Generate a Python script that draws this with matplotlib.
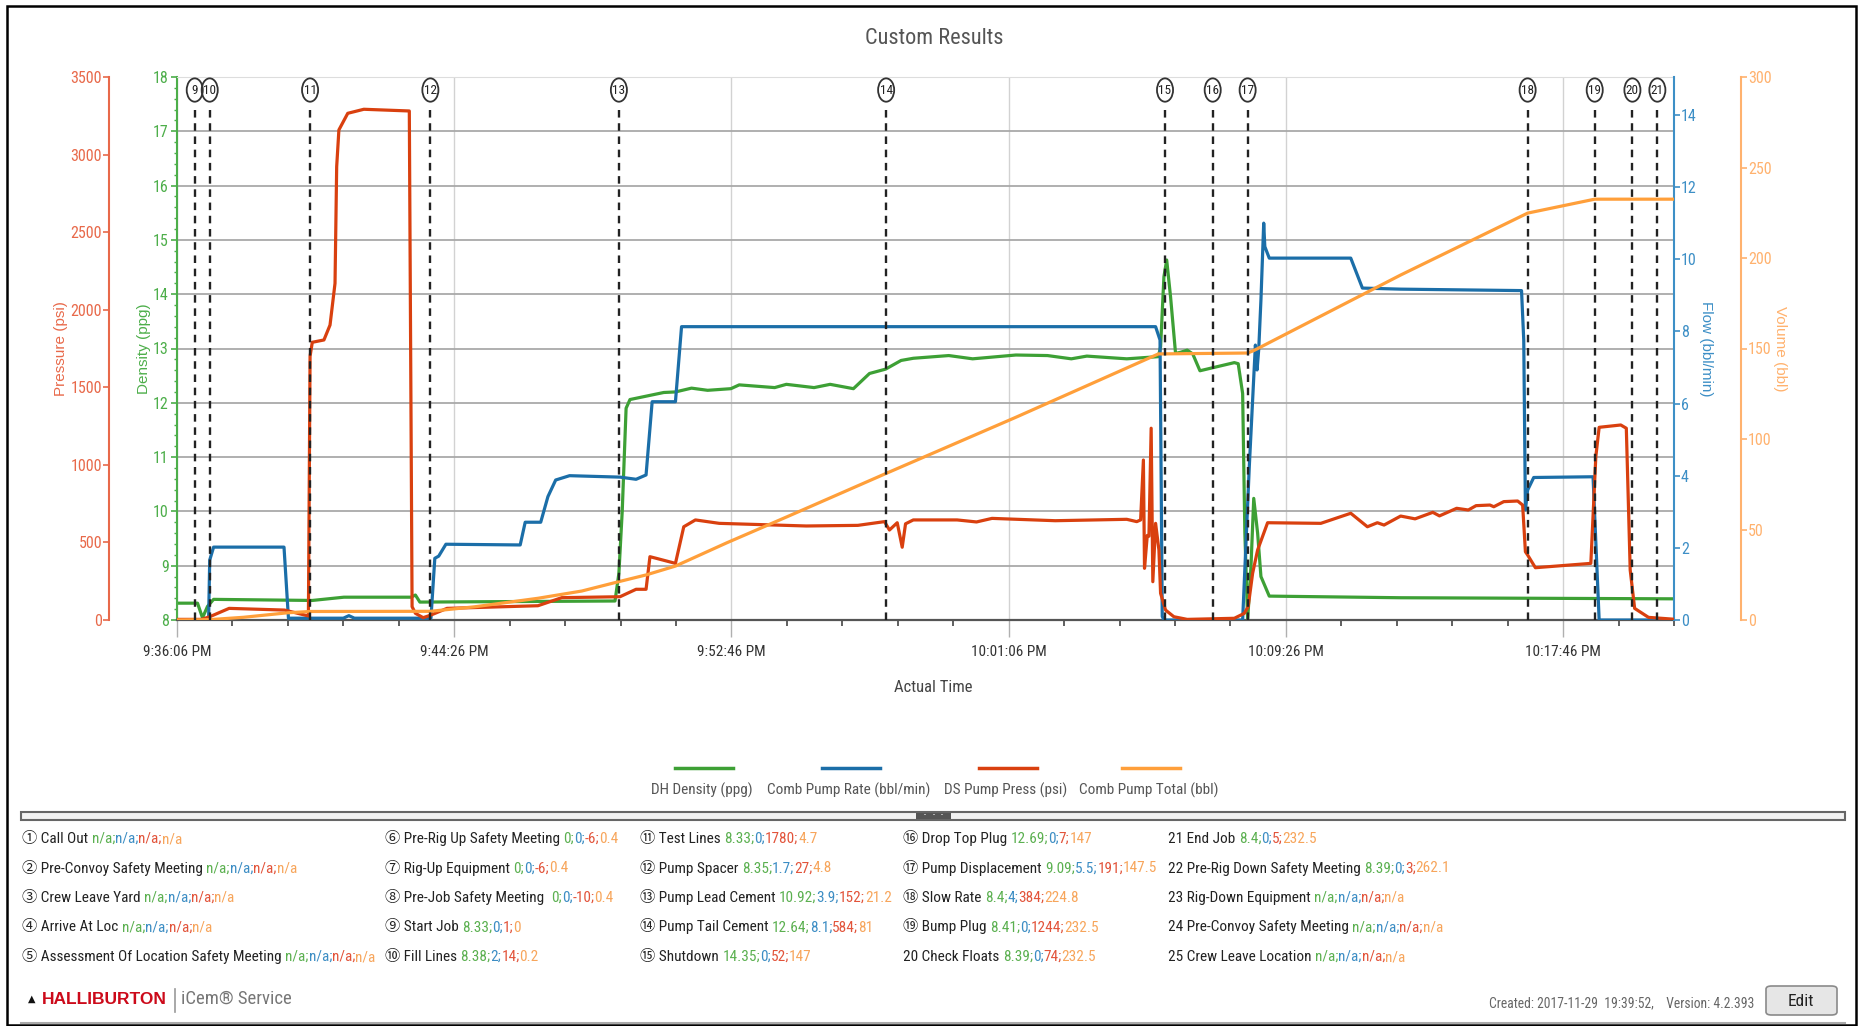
from datetime import datetime, timedelta

import matplotlib
matplotlib.use("Agg")
import matplotlib.pyplot as plt
from matplotlib import font_manager as fm, transforms
from matplotlib.patches import Ellipse, Rectangle, FancyBboxPatch
from matplotlib.lines import Line2D
from matplotlib.ticker import MultipleLocator, FuncFormatter

W, H = 1860, 1026

# --- data (time in seconds after 9:36:06 PM) ---
START = datetime(2017, 11, 29, 21, 36, 6)

density_t = [0, 37, 46, 55, 66, 244, 301, 422, 430, 438, 790, 797, 803, 810, 817,
             878, 899, 928, 957, 999, 1014, 1078, 1099, 1149, 1178, 1220, 1249, 1278,
             1306, 1328, 1392, 1435, 1513, 1570, 1613, 1641, 1713, 1770, 1774, 1780,
             1785, 1792, 1801, 1810, 1822, 1832, 1845, 1907, 1914, 1922, 1926, 1931,
             1937, 1942, 1949, 1955, 1970, 2207, 2700]
density_v = [8.31, 8.31, 8.04, 8.25, 8.38, 8.36, 8.42, 8.42, 8.46, 8.33, 8.35, 8.86,
             10.0, 11.9, 12.06, 12.19, 12.2, 12.27, 12.23, 12.26, 12.33, 12.28, 12.34,
             12.28, 12.34, 12.26, 12.54, 12.62, 12.78, 12.82, 12.87, 12.81, 12.88,
             12.87, 12.81, 12.86, 12.81, 12.85, 13.03, 14.32, 14.63, 13.95, 12.91,
             12.93, 12.97, 12.9, 12.59, 12.74, 12.72, 12.17, 9.6, 8.0, 8.98, 10.24,
             9.6, 8.8, 8.44, 8.41, 8.39]

rate_t = [0, 57, 59, 66, 193, 201, 300, 310, 320, 458, 465, 472, 485, 619, 628, 656,
          669, 683, 708, 799, 828, 846, 857, 899, 910, 1765, 1773, 1777, 1780, 1922,
          1934, 1943, 1945, 1948, 1951, 1955, 1960, 1962, 1970, 2117, 2138, 2207,
          2425, 2429, 2432, 2436, 2447, 2554, 2565, 2700]
rate_v = [0, 0, 1.66, 2.02, 2.02, 0.05, 0.05, 0.12, 0.05, 0.05, 1.71, 1.77, 2.1, 2.08,
          2.71, 2.71, 3.42, 3.88, 4.0, 3.96, 3.9, 4.02, 6.05, 6.05, 8.13, 8.13, 7.76,
          0.1, 0, 0, 4.25, 7.02, 7.62, 6.93, 7.5, 8.87, 11.0, 10.35, 10.03, 10.03, 9.2,
          9.17, 9.13, 7.76, 3.05, 3.6, 3.95, 3.97, 0, 0]

press_t = [0, 44, 59, 94, 194, 237, 240, 244, 265, 276, 285, 288, 292, 308, 337, 419,
           421, 424, 430, 444, 458, 487, 651, 694, 799, 828, 846, 853, 864, 899, 914,
           935, 978, 1135, 1228, 1276, 1285, 1299, 1308, 1314, 1328, 1407, 1442, 1470,
           1584, 1713, 1731, 1738, 1743, 1745, 1750, 1753, 1757, 1760, 1765, 1771,
           1774, 1783, 1798, 1822, 1907, 1925, 1932, 1940, 1949, 1967, 2063, 2117,
           2147, 2165, 2177, 2207, 2233, 2265, 2277, 2308, 2329, 2343, 2368, 2375,
           2393, 2418, 2427, 2432, 2436, 2450, 2550, 2559, 2565, 2604, 2614, 2621,
           2629, 2654, 2700]
press_v = [4, 4, 21, 75, 64, 26, 1700, 1790, 1805, 1901, 2170, 2922, 3159, 3266, 3292,
           3281, 2000, 86, 43, 15, 32, 75, 92, 144, 150, 198, 198, 408, 398, 365, 601,
           645, 623, 606, 610, 634, 580, 627, 469, 620, 645, 645, 632, 655, 640, 649,
           634, 645, 1031, 333, 545, 540, 1236, 247, 623, 451, 172, 64, 21, 4, 11, 43,
           86, 301, 451, 627, 623, 688, 601, 627, 612, 670, 652, 694, 671, 720, 709,
           737, 741, 730, 763, 767, 741, 440, 419, 337, 365, 1053, 1242, 1257, 1236,
           322, 75, 17, 5]

total_t = [0, 59, 120, 200, 240, 457, 537, 651, 730, 797, 846, 899, 992, 1100, 1279,
           1513, 1770, 1931, 1943, 2207, 2436, 2557, 2700]
total_v = [0, 0.2, 1.5, 4.0, 4.7, 4.8, 7.3, 12, 16, 21.2, 24.9, 29.8, 42.7, 57, 81,
           112, 147, 147.5, 149, 190.6, 224.8, 232.5, 232.5]

event_num = [9, 10, 11, 12, 13, 14, 15, 16, 17, 18, 19, 20, 21]
event_t = [32, 59, 240, 457, 797, 1279, 1782, 1868, 1931, 2436, 2557, 2625, 2670]

legend_labels = ["DH Density (ppg)", "Comb Pump Rate (bbl/min)",
                 "DS Pump Press (psi)", "Comb Pump Total (bbl)"]

event_names = [
    "① Call Out", "② Pre-Convoy Safety Meeting", "③ Crew Leave Yard", "④ Arrive At Loc",
    "⑤ Assessment Of Location Safety Meeting",
    "⑥ Pre-Rig Up Safety Meeting", "⑦ Rig-Up Equipment", "⑧ Pre-Job Safety Meeting ",
    "⑨ Start Job", "⑩ Fill Lines",
    "⑪ Test Lines", "⑫ Pump Spacer", "⑬ Pump Lead Cement", "⑭ Pump Tail Cement",
    "⑮ Shutdown",
    "⑯ Drop Top Plug", "⑰ Pump Displacement", "⑱ Slow Rate", "⑲ Bump Plug",
    "20 Check Floats",
    "21 End Job", "22 Pre-Rig Down Safety Meeting", "23 Rig-Down Equipment",
    "24 Pre-Convoy Safety Meeting", "25 Crew Leave Location",
]
NA = ("n/a", "n/a", "n/a", "n/a")
event_vals = [
    NA, NA, NA, NA, NA,
    ("0", "0", "-6", "0.4"), ("0", "0", "-6", "0.4"), ("0", "0", "-10", "0.4"),
    ("8.33", "0", "1", "0"), ("8.38", "2", "14", "0.2"),
    ("8.33", "0", "1780", "4.7"), ("8.35", "1.7", "27", "4.8"),
    ("10.92", "3.9", "152", "21.2"), ("12.64", "8.1", "584", "81"),
    ("14.35", "0", "52", "147"),
    ("12.69", "0", "7", "147"), ("9.09", "5.5", "191", "147.5"),
    ("8.4", "4", "384", "224.8"), ("8.41", "0", "1244", "232.5"),
    ("8.39", "0", "74", "232.5"),
    ("8.4", "0", "5", "232.5"), ("8.39", "0", "3", "262.1"), NA, NA, NA,
]

# --- styles ---
GREEN, BLUE, RED, ORANGE = "#3da035", "#1b6ea8", "#d9400f", "#ff9f3a"
GREEN_AX, BLUE_AX, RED_AX, ORANGE_AX = "#4dae4a", "#3d8fc6", "#e8694a", "#ffb26e"
VAL_COLORS = ["#5bb050", "#3c8dc4", "#e2533a", "#f7a55b"]
LIST_SIZE = 11


def pick_narrow():
    names = {f.name for f in fm.fontManager.ttflist}
    for cand in ["Roboto Condensed", "Liberation Sans Narrow", "DejaVu Sans Condensed",
                 "Noto Sans Condensed", "Open Sans Condensed"]:
        if cand in names:
            return cand
    return "DejaVu Sans"


NARROW = pick_narrow()
plt.rcParams["font.family"] = [NARROW, "Noto Sans CJK SC", "DejaVu Sans"]
REG = ["Liberation Sans", "DejaVu Sans"]


def fx(x):
    return x / W


def fy(y):
    return 1 - y / H


def clock(v, pos):
    return (START + timedelta(seconds=v)).strftime("%I:%M:%S %p").lstrip("0")


fig = plt.figure(figsize=(W / 100, H / 100), dpi=100)
ax = fig.add_axes([fx(177), fy(620), (1674 - 177) / W, (620 - 77) / H])

# density axis (main)
ax.plot(density_t, density_v, color=GREEN, lw=2.3)
ax.set_xlim(0, 2700)
ax.set_ylim(8, 18)
ax.xaxis.set_major_locator(MultipleLocator(500))
ax.xaxis.set_minor_locator(MultipleLocator(100))
ax.xaxis.set_major_formatter(FuncFormatter(clock))
ax.yaxis.set_major_locator(MultipleLocator(1))
ax.yaxis.set_minor_locator(MultipleLocator(0.2))
ax.grid(axis="x", which="major", color="#d2d2d2", lw=1)
ax.grid(axis="y", which="major", color="#a9a9a9", lw=1.3)
ax.tick_params(axis="x", which="major", length=12, color="#b0b0b0", width=1, pad=6,
               labelsize=11, labelcolor="#333333")
ax.tick_params(axis="x", which="minor", length=4, color="#444444", width=1.2)
ax.tick_params(axis="y", which="major", length=4, color=GREEN_AX, width=1.2, pad=2,
               labelsize=11.5, labelcolor=GREEN_AX)
ax.tick_params(axis="y", which="minor", length=2.5, color=GREEN_AX, width=1)
ax.spines["left"].set_color(GREEN_AX)
ax.spines["left"].set_linewidth(1.5)
ax.spines["bottom"].set_color("#555555")
ax.spines["bottom"].set_linewidth(1.6)
ax.spines["top"].set_color("#dddddd")
ax.spines["right"].set_visible(False)

# flow axis
ax_f = ax.twinx()
ax_f.plot(rate_t, rate_v, color=BLUE, lw=2.3)
ax_f.set_ylim(0, 15.05)
ax_f.yaxis.set_major_locator(MultipleLocator(2))
ax_f.tick_params(axis="y", length=4, color=BLUE_AX, width=1.2, pad=1, labelsize=11.5,
                 labelcolor=BLUE_AX)

# pressure axis
ax_p = ax.twinx()
ax_p.plot(press_t, press_v, color=RED, lw=2.3)
ax_p.set_ylim(0, 3500)
ax_p.yaxis.set_major_locator(MultipleLocator(500))
ax_p.yaxis.tick_left()
ax_p.spines["left"].set_position(("axes", -0.0454))
ax_p.tick_params(axis="y", length=4, color=RED_AX, width=1.2, pad=1, labelsize=11.5,
                 labelcolor=RED_AX)

# volume axis
ax_v = ax.twinx()
ax_v.plot(total_t, total_v, color=ORANGE, lw=2.3)
ax_v.set_ylim(0, 300)
ax_v.yaxis.set_major_locator(MultipleLocator(50))
ax_v.spines["right"].set_position(("axes", 1.0448))
ax_v.tick_params(axis="y", length=4, color=ORANGE_AX, width=1.2, pad=1, labelsize=11.5,
                 labelcolor=ORANGE_AX)

for a, side, col in [(ax_f, "right", BLUE_AX), (ax_p, "left", RED_AX),
                     (ax_v, "right", ORANGE_AX)]:
    for name, sp in a.spines.items():
        sp.set_visible(name == side)
    a.spines[side].set_color(col)
    a.spines[side].set_linewidth(1.5)

# event markers
blend = transforms.blended_transform_factory(ax_v.transData, ax_v.transAxes)
for n, t in zip(event_num, event_t):
    ax_v.plot([t, t], [0, 0.947], transform=blend, color="#222222", lw=1.7,
              ls=(0, (3.2, 2.4)), clip_on=False, zorder=5)
    ax_v.add_patch(Ellipse((t, 0.976), 29, 0.043, transform=blend, fill=False,
                           edgecolor="#333333", lw=1.3, clip_on=False, zorder=5))
    ax_v.text(t, 0.975, str(n), transform=blend, ha="center", va="center",
              fontsize=9.5, color="#222222", zorder=6)

# axis titles
fig.text(fx(934), fy(39), "Custom Results", ha="center", va="center", fontsize=16,
         color="#555555")
fig.text(fx(933), fy(687), "Actual Time", ha="center", va="center", fontsize=12,
         color="#444444")
fig.text(fx(61), fy(349), "Pressure (psi)", rotation=90, ha="center", va="center",
         fontsize=11, color=RED_AX, family=REG)
fig.text(fx(144), fy(349), "Density (ppg)", rotation=90, ha="center", va="center",
         fontsize=11, color=GREEN_AX, family=REG)
fig.text(fx(1706), fy(349), "Flow (bbl/min)", rotation=270, ha="center", va="center",
         fontsize=11, color=BLUE_AX, family=REG)
fig.text(fx(1780), fy(349), "Volume (bbl)", rotation=270, ha="center", va="center",
         fontsize=11, color=ORANGE_AX, family=REG)

# legend
leg_x = [704, 851, 1008, 1151]
for lx, lab, col in zip(leg_x, legend_labels, [GREEN, BLUE, RED, ORANGE]):
    fig.add_artist(Line2D([fx(lx - 29), fx(lx + 29)], [fy(768), fy(768)], color=col,
                          lw=2.5, transform=fig.transFigure))
    fig.text(fx(lx - 2), fy(790), lab, ha="center", va="center", fontsize=11,
             color="#555555")

# separator bar
fig.add_artist(Rectangle((fx(21), fy(820)), (1845 - 21) / W, 8 / H,
                         transform=fig.transFigure, facecolor="#f2f2f2",
                         edgecolor="#666666", lw=1.5))
fig.add_artist(Rectangle((fx(916), fy(819)), 35 / W, 6 / H, transform=fig.transFigure,
                         facecolor="#555555", edgecolor="none"))
for dx in (925, 933.5, 942):
    fig.text(fx(dx), fy(816), "·", ha="center", va="center", fontsize=9,
             color="#eeeeee", family="DejaVu Sans")

# event list
renderer = fig.canvas.get_renderer()
probe_a = fig.text(0, 0, "aa", fontsize=LIST_SIZE)
probe_b = fig.text(0, 0, "a a", fontsize=LIST_SIZE)
space_w = probe_b.get_window_extent(renderer).width - probe_a.get_window_extent(renderer).width
probe_a.remove()
probe_b.remove()


def run(x, y, pieces, size=LIST_SIZE):
    for s, c in pieces:
        core = s.rstrip(" ")
        t = fig.text(fx(x), fy(y), core, color=c, fontsize=size, ha="left", va="baseline")
        x += t.get_window_extent(renderer).width + space_w * (len(s) - len(core))
    return x


col_x = [22, 385, 640, 903, 1168]
row_y = [843, 872.5, 902, 931.5, 961]
for i, (name, vals) in enumerate(zip(event_names, event_vals)):
    pieces = [(name + " ", "#222222")]
    for k, v in enumerate(vals):
        pieces.append((v + (";" if k < 3 else ""), VAL_COLORS[k]))
    run(col_x[i // 5], row_y[i % 5], pieces)

# footer
fig.text(fx(32), fy(999), "▲", ha="center", va="center", fontsize=7, color="#111111",
         family="DejaVu Sans")
fig.text(fx(42), fy(999), "HALLIBURTON", ha="left", va="center", fontsize=12.5,
         color="#cc0a1a", family=REG, weight="bold")
fig.add_artist(Line2D([fx(175), fx(175)], [fy(989), fy(1012)], color="#999999", lw=1.2,
                      transform=fig.transFigure))
fig.text(fx(181), fy(999), "iCem® Service", ha="left", va="center", fontsize=13.5,
         color="#777777")
fig.text(fx(1754), fy(1003), "Created: 2017-11-29  19:39:52,    Version: 4.2.393",
         ha="right", va="center", fontsize=9.8, color="#666666")
fig.add_artist(FancyBboxPatch((fx(1766), fy(1015)), 71 / W, 29 / H,
                              boxstyle="round,pad=0,rounding_size=0.003",
                              transform=fig.transFigure, facecolor="#e6e6e6",
                              edgecolor="#8a8a8a", lw=1.2))
fig.text(fx(1801), fy(1001), "Edit", ha="center", va="center", fontsize=12.5,
         color="#222222")
fig.add_artist(Line2D([fx(21), fx(1845)], [fy(1023), fy(1023)], color="#aaaaaa", lw=1.5,
                      transform=fig.transFigure))

# outer frame
fig.add_artist(Rectangle((fx(7), fy(1025)), (1856 - 7) / W, (1025 - 6) / H,
                         transform=fig.transFigure, fill=False, edgecolor="black", lw=1.8))

fig.savefig("out.png", dpi=100)
